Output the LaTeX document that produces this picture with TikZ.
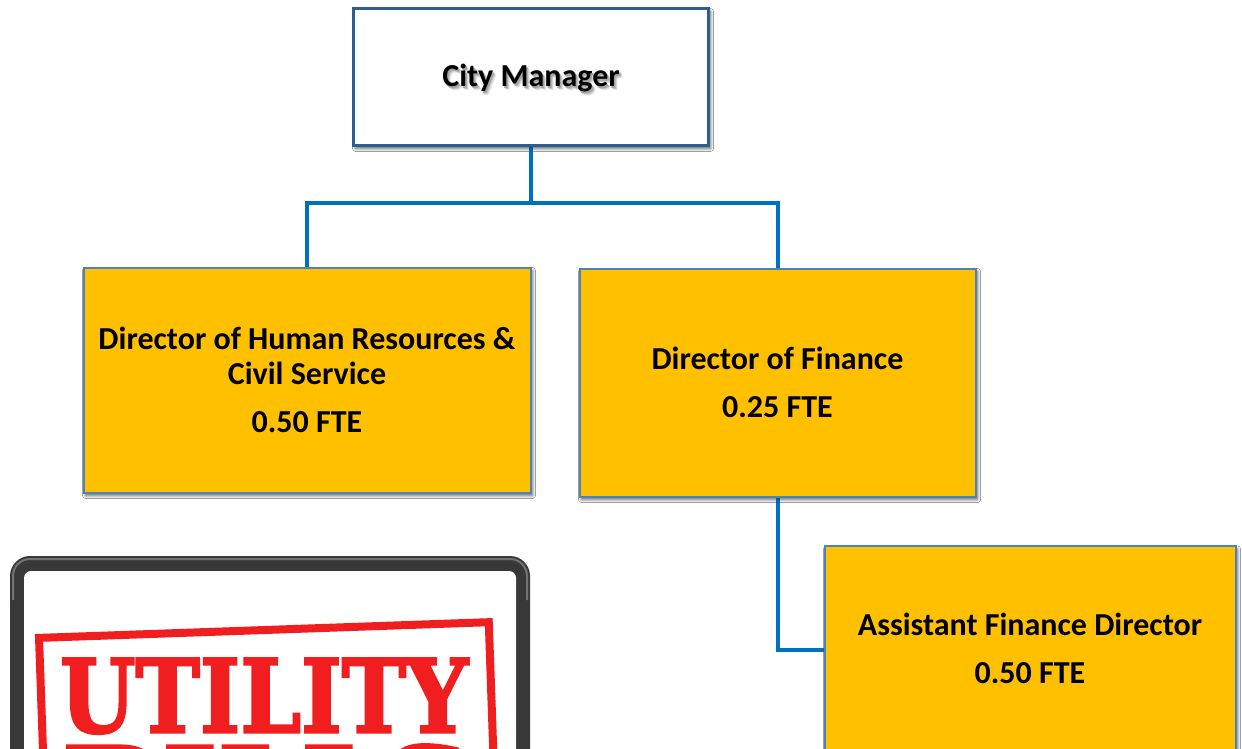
\documentclass[tikz,border=0pt]{standalone}
\usepackage{fontspec}
\setmainfont{Carlito}
\newfontfamily\stampfont[BoldFeatures={FakeBold=2.5}]{DejaVu Serif}
\usetikzlibrary{shadows.blur}
\definecolor{linkblue}{HTML}{0070C0}
\definecolor{boxedge}{HTML}{2F5E8C}
\definecolor{goldfill}{HTML}{FFC000}
\definecolor{goldedge}{HTML}{4F81BD}
\definecolor{stampred}{HTML}{F01E1E}
\definecolor{framegray}{HTML}{383838}
% text with a soft grey shadow behind it, all in one box
\newcommand{\softshadow}[1]{%
  \makebox[0pt][l]{\hspace*{3.5pt}\raisebox{-3.5pt}{\color{black!10}#1}}%
  \makebox[0pt][l]{\hspace*{2.5pt}\raisebox{-2.5pt}{\color{black!22}#1}}%
  \makebox[0pt][l]{\hspace*{1.5pt}\raisebox{-1.5pt}{\color{black!35}#1}}%
  #1}
\tikzset{
  orgtext/.style={font=\bfseries\fontsize{32}{35}\selectfont, align=center, text=black},
  topbox/.style={draw=boxedge, line width=2.5pt, fill=white, minimum width=355pt, minimum height=137pt,
    blur shadow={shadow xshift=2pt, shadow yshift=-3pt, shadow blur radius=3pt, shadow opacity=35}},
  goldbox/.style={draw=goldedge, line width=2pt, fill=goldfill, inner sep=0pt,
    blur shadow={shadow xshift=2pt, shadow yshift=-3pt, shadow blur radius=3pt, shadow opacity=35}},
  conn/.style={draw=linkblue, line width=4pt},
  stamptext/.style={text=stampred, inner sep=0pt, anchor=north west},
}
\begin{document}
\begin{tikzpicture}[x=1pt,y=-1pt]
  \useasboundingbox (0,0) rectangle (1242,749);
  \clip (0,0) rectangle (1242,749);
  \fill[white] (0,0) rectangle (1242,749);

  % position boxes, then the connectors between them
  \node[topbox] (cm) at (531,77) {};
  \node[goldbox, minimum width=447pt, minimum height=225pt] (hr) at (307,380) {};
  \node[goldbox, minimum width=396pt, minimum height=228pt] (fin) at (777.5,382.5) {};
  \node[goldbox, minimum width=411pt, minimum height=208pt] (asst) at (1030,650) {};

  \draw[conn] (cm.south) -- ++(0,56) -| (hr.north);
  \draw[conn] (cm.south) -- ++(0,56) -| (fin.north);
  \draw[conn] (fin.south) |- (asst.west);

  % boxes with their texts, drawn over the connector ends
  \node[topbox] at (cm) {};
  \node[orgtext] (cmt) at ([yshift=-3pt]cm.center) {\softshadow{City Manager}};
  \node[goldbox, orgtext, minimum width=447pt, minimum height=225pt] at (hr)
    {Director of Human Resources \&\\Civil Service\\[13pt]0.50 FTE};
  \node[goldbox, orgtext, minimum width=396pt, minimum height=228pt] at (fin)
    {Director of Finance\\[13pt]0.25 FTE};
  \node[goldbox, orgtext, minimum width=411pt, minimum height=208pt, text depth=4pt] at (asst)
    {Assistant Finance Director\\[13pt]0.50 FTE};

  % framed stamp sign
  \fill[framegray] (10,556) [rounded corners=20pt] -- (530,556) -- (530,800) -- (10,800) -- cycle;
  \draw[black!55, line width=2pt] (13,600) [rounded corners=17pt] -- (13,559) -- (527,559) -- (527,600);
  \fill[white] (24,571) [rounded corners=7pt] -- (516,571) -- (516,800) -- (24,800) -- cycle;
  \begin{scope}[rotate around={2:(266,690)}]
    \draw[stampred, line width=8pt] (41,630) rectangle (491,820);
    \node[stamptext] (util) at (61,651)
      {\resizebox{408pt}{74pt}{\stampfont\bfseries UTILITY}};
    \node[stamptext] (bills) at (60,737)
      {\resizebox{408pt}{74pt}{\stampfont\bfseries BILLS}};
  \end{scope}
\end{tikzpicture}
\end{document}
